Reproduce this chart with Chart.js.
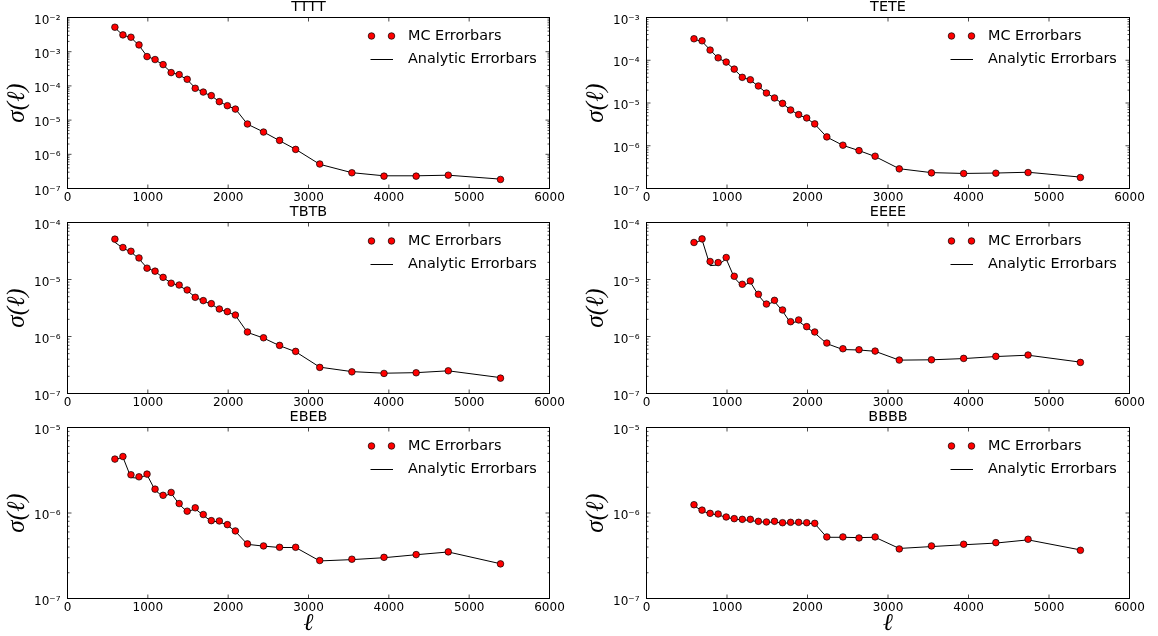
<!DOCTYPE html>
<html lang="en">
<head>
  <meta charset="UTF-8">
  <title>MC vs Analytic Errorbars</title>
  <script src="https://cdn.jsdelivr.net/npm/chart.js"></script>
  <style>
    body { margin: 0; background: #fff; }
    #wrap { position: relative; width: 1158px; height: 636px; }
    #wrap canvas { position: absolute; }
  </style>
</head>
<body>
<div id="wrap"></div>
<script>
// multipole bin centres
const ell = [590, 690, 790, 890, 990, 1090, 1190, 1290, 1390, 1490, 1590, 1690, 1790, 1890, 1990, 2090,
             2240, 2440, 2640, 2840, 3140, 3540, 3940, 4340, 4740, 5390];

const titles = ['TTTT', 'TETE', 'TBTB', 'EEEE', 'EBEB', 'BBBB'];
const yMax = [1e-2, 1e-3, 1e-4, 1e-4, 1e-5, 1e-5];
const yMin = 1e-7;
const xTicks = [0, 1000, 2000, 3000, 4000, 5000, 6000];

const mcTTTT = [5.2e-3, 3.1e-3, 2.65e-3, 1.58e-3, 7.2e-4, 5.9e-4, 4.2e-4, 2.45e-4, 2.14e-4, 1.56e-4, 8.5e-5, 6.6e-5, 5.2e-5, 3.46e-5, 2.64e-5, 2.1e-5,
                7.7e-6, 4.47e-6, 2.55e-6, 1.39e-6, 5.2e-7, 2.88e-7, 2.3e-7, 2.3e-7, 2.45e-7, 1.84e-7];
const anTTTT = [5.0e-3, 3.05e-3, 2.6e-3, 1.52e-3, 7.4e-4, 5.8e-4, 4.1e-4, 2.5e-4, 2.1e-4, 1.52e-4, 8.7e-5, 6.5e-5, 5.1e-5, 3.5e-5, 2.6e-5, 2.12e-5,
                7.6e-6, 4.5e-6, 2.5e-6, 1.4e-6, 5.1e-7, 2.9e-7, 2.35e-7, 2.35e-7, 2.45e-7, 1.88e-7];

const mcTETE = [3.18e-4, 2.85e-4, 1.73e-4, 1.14e-4, 9.06e-5, 6.2e-5, 3.98e-5, 3.5e-5, 2.5e-5, 1.71e-5, 1.31e-5, 9.8e-6, 6.87e-6, 5.35e-6, 4.47e-6, 3.24e-6,
                1.61e-6, 1.03e-6, 7.7e-7, 5.69e-7, 2.88e-7, 2.32e-7, 2.24e-7, 2.28e-7, 2.36e-7, 1.81e-7];
const anTETE = [3.1e-4, 2.75e-4, 1.75e-4, 1.12e-4, 9.0e-5, 6.1e-5, 4.0e-5, 3.45e-5, 2.45e-5, 1.72e-5, 1.3e-5, 9.7e-6, 6.9e-6, 5.3e-6, 4.4e-6, 3.2e-6,
                1.6e-6, 1.02e-6, 7.7e-7, 5.6e-7, 2.9e-7, 2.35e-7, 2.25e-7, 2.3e-7, 2.4e-7, 1.85e-7];

const mcTBTB = [5.1e-5, 3.64e-5, 3.13e-5, 2.39e-5, 1.58e-5, 1.4e-5, 1.09e-5, 8.6e-6, 8.0e-6, 6.55e-6, 4.87e-6, 4.26e-6, 3.77e-6, 3.04e-6, 2.73e-6, 2.38e-6,
                1.2e-6, 9.5e-7, 6.98e-7, 5.48e-7, 2.87e-7, 2.4e-7, 2.25e-7, 2.31e-7, 2.5e-7, 1.86e-7];
const anTBTB = [4.5e-5, 3.55e-5, 3.05e-5, 2.3e-5, 1.6e-5, 1.38e-5, 1.08e-5, 8.7e-6, 7.8e-6, 6.4e-6, 4.9e-6, 4.2e-6, 3.7e-6, 3.0e-6, 2.7e-6, 2.35e-6,
                1.18e-6, 9.4e-7, 6.9e-7, 5.4e-7, 2.9e-7, 2.42e-7, 2.27e-7, 2.32e-7, 2.5e-7, 1.9e-7];

const mcEEEE = [4.46e-5, 5.16e-5, 2.07e-5, 1.98e-5, 2.43e-5, 1.14e-5, 8.24e-6, 9.44e-6, 5.5e-6, 3.71e-6, 4.31e-6, 2.92e-6, 1.82e-6, 1.95e-6, 1.49e-6, 1.2e-6,
                7.67e-7, 6.1e-7, 5.86e-7, 5.55e-7, 3.86e-7, 3.9e-7, 4.13e-7, 4.48e-7, 4.73e-7, 3.51e-7];
const anEEEE = [4.3e-5, 5.0e-5, 1.75e-5, 1.8e-5, 2.3e-5, 1.08e-5, 7.6e-6, 9.0e-6, 5.3e-6, 3.6e-6, 4.1e-6, 2.8e-6, 1.72e-6, 1.85e-6, 1.45e-6, 1.15e-6,
                7.5e-7, 5.9e-7, 5.8e-7, 5.5e-7, 3.85e-7, 3.9e-7, 4.1e-7, 4.45e-7, 4.7e-7, 3.55e-7];

const mcEBEB = [4.27e-6, 4.58e-6, 2.8e-6, 2.65e-6, 2.85e-6, 1.9e-6, 1.61e-6, 1.74e-6, 1.29e-6, 1.05e-6, 1.15e-6, 9.6e-7, 8.14e-7, 8.07e-7, 7.31e-7, 6.17e-7,
                4.35e-7, 4.12e-7, 3.97e-7, 3.97e-7, 2.78e-7, 2.88e-7, 3.03e-7, 3.26e-7, 3.51e-7, 2.54e-7];
const anEBEB = [4.2e-6, 4.5e-6, 2.6e-6, 2.55e-6, 2.8e-6, 1.85e-6, 1.55e-6, 1.7e-6, 1.27e-6, 1.03e-6, 1.12e-6, 9.4e-7, 8.0e-7, 7.9e-7, 7.2e-7, 6.1e-7,
                4.3e-7, 4.1e-7, 3.95e-7, 3.95e-7, 2.75e-7, 2.85e-7, 3.0e-7, 3.25e-7, 3.5e-7, 2.55e-7];

const mcBBBB = [1.25e-6, 1.08e-6, 9.9e-7, 9.73e-7, 8.98e-7, 8.59e-7, 8.43e-7, 8.43e-7, 7.99e-7, 7.85e-7, 7.99e-7, 7.7e-7, 7.78e-7, 7.78e-7, 7.7e-7, 7.57e-7,
                5.25e-7, 5.25e-7, 5.11e-7, 5.25e-7, 3.8e-7, 4.12e-7, 4.31e-7, 4.5e-7, 4.93e-7, 3.66e-7];
const anBBBB = [1.22e-6, 1.06e-6, 9.8e-7, 9.5e-7, 8.9e-7, 8.5e-7, 8.3e-7, 8.2e-7, 7.9e-7, 7.8e-7, 7.8e-7, 7.65e-7, 7.6e-7, 7.6e-7, 7.55e-7, 7.5e-7,
                5.2e-7, 5.2e-7, 5.15e-7, 5.2e-7, 3.85e-7, 4.05e-7, 4.25e-7, 4.45e-7, 4.85e-7, 3.7e-7];

const mcSets = [mcTTTT, mcTETE, mcTBTB, mcEEEE, mcEBEB, mcBBBB];
const anSets = [anTTTT, anTETE, anTBTB, anEEEE, anEBEB, anBBBB];

const FONT = 'DejaVu Sans';
const MATH = 'Liberation Serif';
Chart.defaults.color = '#000';

// 10^n labels with superscript exponent
const sup = {'-': '\u207B', '0': '\u2070', '1': '\u00B9', '2': '\u00B2', '3': '\u00B3',
             '4': '\u2074', '5': '\u2075', '6': '\u2076', '7': '\u2077', '8': '\u2078', '9': '\u2079'};
function powLabel(v) {
  const e = Math.round(Math.log10(v));
  return '10' + String(e).split('').map(c => sup[c]).join('');
}

// matplotlib-style frame with inward ticks on all four sides
const frameTicks = {
  id: 'frameTicks',
  afterDraw(chart) {
    const {ctx, chartArea: a, scales: {x, y}} = chart;
    ctx.save();
    ctx.strokeStyle = '#000';
    ctx.lineWidth = 0.7;
    ctx.beginPath();
    x.ticks.forEach(t => {
      const px = x.getPixelForValue(t.value);
      ctx.moveTo(px, a.bottom); ctx.lineTo(px, a.bottom - 4);
      ctx.moveTo(px, a.top); ctx.lineTo(px, a.top + 4);
    });
    const lo = Math.round(Math.log10(y.min)), hi = Math.round(Math.log10(y.max));
    for (let e = lo; e <= hi; e++) {
      for (let m = 1; m <= 9; m++) {
        const v = m * Math.pow(10, e);
        if (v > y.max * 1.0001) break;
        const py = y.getPixelForValue(v);
        const len = m === 1 ? 4 : 2;
        ctx.moveTo(a.left, py); ctx.lineTo(a.left + len, py);
        ctx.moveTo(a.right, py); ctx.lineTo(a.right - len, py);
      }
    }
    ctx.stroke();
    ctx.lineWidth = 1;
    ctx.strokeRect(a.left, a.top, a.right - a.left, a.bottom - a.top);
    ctx.restore();
  }
};

// legend inside the upper right corner, two markers for the MC entry
const innerLegend = {
  id: 'innerLegend',
  afterDraw(chart) {
    const {ctx, chartArea: a} = chart;
    const [mc, an] = chart.data.datasets;
    const x0 = a.right - 178, tx = a.right - 141.5;
    const y1 = a.top + 18.5, y2 = a.top + 42;
    ctx.save();
    [x0, x0 + 20].forEach(cx => {
      ctx.beginPath();
      ctx.arc(cx, y1, mc.pointRadius, 0, 2 * Math.PI);
      ctx.fillStyle = mc.pointBackgroundColor;
      ctx.fill();
      ctx.lineWidth = mc.pointBorderWidth;
      ctx.strokeStyle = mc.pointBorderColor;
      ctx.stroke();
    });
    ctx.beginPath();
    ctx.moveTo(x0 - 1, y2); ctx.lineTo(x0 + 21.5, y2);
    ctx.lineWidth = an.borderWidth;
    ctx.strokeStyle = an.borderColor;
    ctx.stroke();
    ctx.font = '14.4px "' + FONT + '"';
    ctx.textBaseline = 'middle';
    ctx.fillStyle = '#000';
    ctx.fillText(mc.label, tx, y1);
    ctx.fillText(an.label, tx, y2);
    ctx.restore();
  }
};

const wrap = document.getElementById('wrap');
titles.forEach((title, i) => {
  const col = i % 2, row = Math.floor(i / 2);
  const bottomRow = row === 2;
  const w = 579, h = bottomRow ? 226 : 205;
  const cv = document.createElement('canvas');
  cv.width = w; cv.height = h;
  cv.style.left = (col * 579) + 'px';
  cv.style.top = (row * 205) + 'px';
  cv.style.width = w + 'px';
  cv.style.height = h + 'px';
  wrap.appendChild(cv);

  new Chart(cv, {
    type: 'line',
    data: {
      datasets: [{
        label: 'MC Errorbars',
        data: ell.map((x, k) => ({x, y: mcSets[i][k]})),
        showLine: false,
        pointRadius: 3.3,
        pointBackgroundColor: 'red',
        pointBorderColor: '#000',
        pointBorderWidth: 0.7
      }, {
        label: 'Analytic Errorbars',
        data: ell.map((x, k) => ({x, y: anSets[i][k]})),
        borderColor: '#000',
        borderWidth: 1,
        pointRadius: 0,
        tension: 0
      }]
    },
    options: {
      responsive: false,
      animation: false,
      events: [],
      layout: { padding: { top: 0, left: 0, bottom: 0, right: col ? 28.5 : 29.5 } },
      plugins: {
        legend: { display: false },
        tooltip: { enabled: false },
        title: {
          display: true, text: title, fullSize: false, color: '#000',
          font: { family: FONT, size: 14.4, weight: 'normal', lineHeight: 1 },
          padding: { top: 0, bottom: 3.1 }
        }
      },
      scales: {
        x: {
          type: 'linear', min: 0, max: 6000,
          grid: { display: false, drawTicks: false },
          border: { display: false },
          afterBuildTicks: s => { s.ticks = xTicks.map(v => ({value: v})); },
          ticks: { callback: v => String(v), padding: 2, maxRotation: 0, autoSkip: false, color: '#000',
                   font: { family: FONT, size: 12 } },
          title: { display: bottomRow, text: '\u2113', color: '#000', padding: 0,
                   font: { family: MATH, style: 'italic', size: 24, lineHeight: 1 } },
          afterFit: s => { s.height = bottomRow ? 37.5 : 16.5; }
        },
        y: {
          type: 'logarithmic', min: yMin, max: yMax[i],
          grid: { display: false, drawTicks: false },
          border: { display: false },
          afterBuildTicks: s => {
            const lo = Math.round(Math.log10(yMin)), hi = Math.round(Math.log10(yMax[i]));
            const t = [];
            for (let e = lo; e <= hi; e++) t.push({value: Math.pow(10, e)});
            s.ticks = t;
          },
          ticks: { callback: powLabel, padding: 7, labelOffset: 3, autoSkip: false, color: '#000',
                   font: { family: FONT, size: 12 } },
          title: { display: true, text: '\u03C3(\u2113)', color: '#000', padding: { top: 5, bottom: 0 },
                   font: { family: MATH, style: 'italic', size: 25, lineHeight: 1 } },
          afterFit: s => { s.width = 67.5; }
        }
      }
    },
    plugins: [innerLegend, frameTicks]
  });
});
</script>
</body>
</html>
